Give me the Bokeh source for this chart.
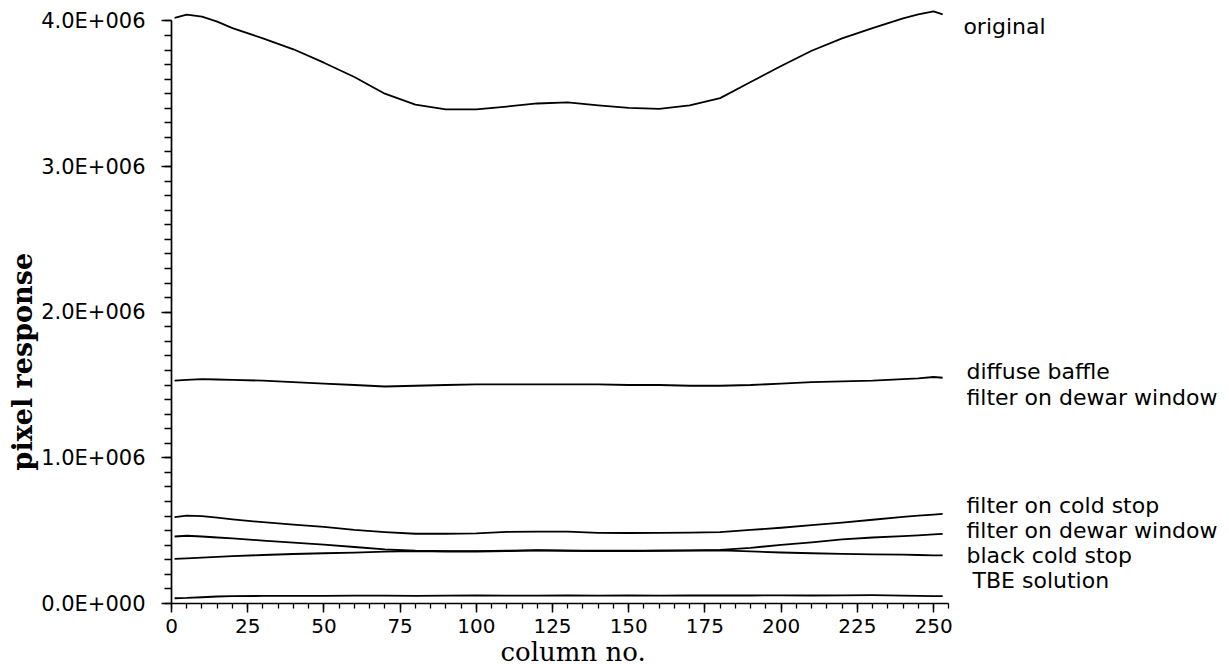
import numpy as np
from bokeh.plotting import figure
from bokeh.models import Range1d, SingleIntervalTicker, Label, Title
from bokeh.embed import file_html
from bokeh.resources import INLINE

# ---------------- data (pixel response, in units of 1e6) ----------------
columns = [1, 5, 10, 15, 20, 30, 40, 50, 60, 70, 80, 90, 100, 110, 120, 130,
           140, 150, 160, 170, 180, 190, 200, 210, 220, 230, 240, 245, 250, 253]

original = [4.020, 4.043, 4.030, 3.995, 3.950, 3.880, 3.805, 3.713, 3.615, 3.500,
            3.425, 3.393, 3.393, 3.412, 3.433, 3.440, 3.420, 3.403, 3.396, 3.420,
            3.470, 3.580, 3.690, 3.795, 3.880, 3.950, 4.017, 4.045, 4.065, 4.045]

diffuse_baffle = [1.530, 1.535, 1.540, 1.538, 1.535, 1.530, 1.520, 1.510, 1.500, 1.490,
                  1.495, 1.500, 1.505, 1.505, 1.505, 1.505, 1.505, 1.500, 1.500, 1.495,
                  1.495, 1.500, 1.510, 1.520, 1.525, 1.530, 1.540, 1.545, 1.555, 1.550]

filter_cold_stop = [0.593, 0.603, 0.600, 0.590, 0.578, 0.558, 0.542, 0.526, 0.505, 0.490,
                    0.479, 0.479, 0.482, 0.492, 0.493, 0.493, 0.485, 0.484, 0.485, 0.486,
                    0.490, 0.505, 0.520, 0.538, 0.555, 0.575, 0.595, 0.603, 0.610, 0.615]

filter_dewar_window = [0.460, 0.465, 0.460, 0.453, 0.447, 0.432, 0.418, 0.404, 0.388, 0.372,
                       0.362, 0.360, 0.360, 0.362, 0.365, 0.363, 0.362, 0.362, 0.363, 0.365,
                       0.368, 0.382, 0.403, 0.420, 0.440, 0.453, 0.462, 0.468, 0.474, 0.478]

black_cold_stop = [0.307, 0.310, 0.315, 0.320, 0.325, 0.333, 0.340, 0.345, 0.349, 0.356,
                   0.360, 0.357, 0.357, 0.360, 0.366, 0.362, 0.360, 0.360, 0.362, 0.363,
                   0.365, 0.358, 0.350, 0.345, 0.341, 0.337, 0.335, 0.333, 0.331, 0.330]

tbe_solution = [0.036, 0.038, 0.043, 0.048, 0.050, 0.052, 0.053, 0.053, 0.054, 0.054,
                0.053, 0.054, 0.055, 0.054, 0.054, 0.055, 0.054, 0.055, 0.054, 0.055,
                0.055, 0.055, 0.056, 0.055, 0.056, 0.057, 0.054, 0.052, 0.050, 0.050]

y_tick_values = [0, 1000000, 2000000, 3000000, 4000000]
y_tick_labels = ["0.0E+000", "1.0E+006", "2.0E+006", "3.0E+006", "4.0E+006"]

series = [original, diffuse_baffle, filter_cold_stop, filter_dewar_window,
          black_cold_stop, tbe_solution]

# curve labels: (text, x in columns, y position in units of 1e6)
curve_labels = [
    ("original", 259.8, 3.961),
    ("diffuse baffle", 260.8, 1.593),
    ("filter on dewar window", 260.8, 1.415),
    ("filter on cold stop", 260.8, 0.673),
    ("filter on dewar window", 260.8, 0.501),
    ("black cold stop", 260.8, 0.330),
    ("TBE solution", 262.8, 0.158),
]

x_title = "column no."
y_title = "pixel response"

# ---------------- figure ----------------
W, H = 1229, 668
p = figure(width=W, height=H, output_backend="svg", toolbar_location=None,
           x_range=Range1d(0, 347.1), y_range=Range1d(0, 4.14e6),
           min_border_left=171, min_border_right=0, min_border_top=0,
           min_border_bottom=65)
p.outline_line_color = None
p.xgrid.visible = False
p.ygrid.visible = False
p.background_fill_color = "white"
p.border_fill_color = "white"

x = np.array(columns, dtype=float)
for s in series:
    p.line(x, np.array(s) * 1e6, line_color="black", line_width=1.8,
           line_join="round")

# x axis
xa = p.xaxis[0]
xa.ticker = SingleIntervalTicker(interval=25, num_minor_ticks=5)
xa.bounds = (0, 255)
xa.axis_line_width = 1.7
xa.major_tick_line_width = 1.5
xa.minor_tick_line_width = 1.3
xa.major_tick_out = 9
xa.major_tick_in = 0
xa.minor_tick_out = 5
xa.minor_tick_in = 0
xa.major_label_standoff = 6
xa.major_label_text_font = "DejaVu Sans"
xa.major_label_text_font_size = "20px"
xa.major_label_text_color = "black"

# y axis
ya = p.yaxis[0]
ya.ticker = SingleIntervalTicker(interval=1000000, num_minor_ticks=10)
ya.bounds = (0, 4000000)
ya.axis_line_width = 1.7
ya.major_tick_line_width = 1.5
ya.minor_tick_line_width = 1.3
ya.major_tick_out = 10
ya.major_tick_in = 0
ya.minor_tick_out = 7
ya.minor_tick_in = 0
ya.major_label_standoff = 16
ya.major_label_text_font = "DejaVu Sans"
ya.major_label_text_font_size = "21px"
ya.major_label_text_color = "black"
ya.major_label_overrides = {v: t for v, t in zip(y_tick_values, y_tick_labels)}

# curve labels
for text, lx, ly in curve_labels:
    p.add_layout(Label(x=lx, y=ly * 1e6, text=text, text_font="DejaVu Sans",
                       text_font_size="22px", text_color="black",
                       text_align="left", text_baseline="alphabetic"))

# axis titles (side panels, so they are not clipped by the frame)
p.add_layout(Title(text=x_title, align="left", offset=329, vertical_align="middle",
                   standoff=0, text_font="DejaVu Serif", text_font_style="normal",
                   text_font_size="26px", text_color="black"), "below")
p.add_layout(Title(text=y_title, align="left", offset=133, vertical_align="middle",
                   standoff=0, text_font="DejaVu Serif", text_font_style="bold",
                   text_font_size="27px", text_color="black"), "left")

open("out.html", "w").write(file_html(p, INLINE))
